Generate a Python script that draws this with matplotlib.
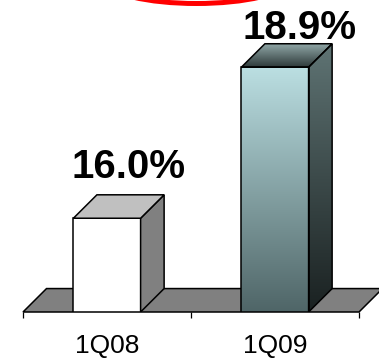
import numpy as np
import matplotlib.pyplot as plt
from matplotlib import font_manager
from matplotlib.patches import Polygon, Ellipse
from matplotlib.colors import LinearSegmentedColormap

# Datos del grafico
periodos = ['1Q08', '1Q09']
valores = [16.0, 18.9]
etiquetas = ['16.0%', '18.9%']

# Escala del eje de valores y geometria de las barras 3D
base = 14.2
techo = 20.19
ancho = 0.4
prof_x = 0.14
prof_y = 0.45

# Desplazamiento de cada etiqueta respecto a la cara frontal (pixeles)
offsets_etiquetas = [(21.5, 40), (25, 28)]

# Fuente angosta para los periodos si esta instalada
instaladas = {f.name for f in font_manager.fontManager.ttflist}
if 'Liberation Sans Narrow' in instaladas:
    fuente_periodo, tam_periodo = 'Liberation Sans Narrow', 21
else:
    fuente_periodo, tam_periodo = 'Liberation Sans', 19


def cara_degradado(ax, verts, c_arriba, c_abajo, z):
    # Rellena un poligono con un degradado vertical
    poly = Polygon(verts, closed=True, facecolor='none', edgecolor='none')
    ax.add_patch(poly)
    xs = [v[0] for v in verts]
    ys = [v[1] for v in verts]
    cmap = LinearSegmentedColormap.from_list('grad', [c_abajo, c_arriba])
    grad = np.linspace(0, 1, 256).reshape(-1, 1)
    im = ax.imshow(grad, extent=(min(xs), max(xs), min(ys), max(ys)), origin='lower',
                   cmap=cmap, aspect='auto', interpolation='bicubic', zorder=z)
    im.set_clip_path(poly)


def caras(i, v):
    x0, x1 = i - ancho / 2, i + ancho / 2
    frente = [(x0, base), (x1, base), (x1, v), (x0, v)]
    lado = [(x1, base), (x1 + prof_x, base + prof_y), (x1 + prof_x, v + prof_y), (x1, v)]
    arriba = [(x0, v), (x1, v), (x1 + prof_x, v + prof_y), (x0 + prof_x, v + prof_y)]
    return frente, lado, arriba


fig = plt.figure(figsize=(3.79, 3.6), dpi=100)
ax = fig.add_axes([23 / 379, 48 / 360, 336 / 379, 312 / 360])

# Piso
piso = Polygon([(-0.5, base), (1.5, base), (1.5 + prof_x, base + prof_y), (-0.5 + prof_x, base + prof_y)],
               closed=True, facecolor='#808080', edgecolor='black', linewidth=1.1, zorder=1, clip_on=False)
ax.add_patch(piso)

# Barra 1Q08 (blanca)
frente, lado, arriba = caras(0, valores[0])
ax.add_patch(Polygon(frente, facecolor='white', edgecolor='black', linewidth=1.1, zorder=3))
ax.add_patch(Polygon(lado, facecolor='#808080', edgecolor='black', linewidth=1.1, zorder=3))
ax.add_patch(Polygon(arriba, facecolor='#c0c0c0', edgecolor='black', linewidth=1.1, zorder=3))

# Barra 1Q09 (degradado)
frente, lado, arriba = caras(1, valores[1])
cara_degradado(ax, frente, '#bbdfe2', '#4f6567', 2)
cara_degradado(ax, lado, '#5f7474', '#1a2121', 2)
cara_degradado(ax, arriba, '#93aaaa', '#2e3a3a', 2)
for cara in (frente, lado, arriba):
    ax.add_patch(Polygon(cara, facecolor='none', edgecolor='black', linewidth=1.1, zorder=3))

# Etiquetas de valor
for i, (v, etq) in enumerate(zip(valores, etiquetas)):
    ax.annotate(etq, xy=(i, v), xytext=offsets_etiquetas[i], textcoords='offset pixels',
                ha='center', va='baseline', fontsize=29, fontweight='bold',
                family=['Liberation Sans', 'DejaVu Sans'], annotation_clip=False)

ax.set_xlim(-0.5, 1.5)
ax.set_ylim(base, techo)

# Marcas del eje x y nombres de periodo
ax.set_xticks([-0.5, 0.5, 1.5])
ax.set_xticklabels([])
ax.set_xticks([0, 1], minor=True)
ax.set_xticklabels(periodos, minor=True, fontsize=tam_periodo,
                   family=[fuente_periodo, 'DejaVu Sans'])
ax.tick_params(axis='x', which='major', length=4.3, width=0.9, color='black')
ax.tick_params(axis='x', which='minor', length=0, pad=16)
ax.set_yticks([])
for s in ax.spines.values():
    s.set_visible(False)
ax.patch.set_alpha(0)

# Ovalo rojo resaltado en la parte superior
fig.add_artist(Ellipse((1.965, 3.785), 1.8, 0.44, transform=fig.dpi_scale_trans,
                       fill=False, edgecolor='#ff0000', linewidth=3.6))

fig.savefig('out.png', dpi=100)
